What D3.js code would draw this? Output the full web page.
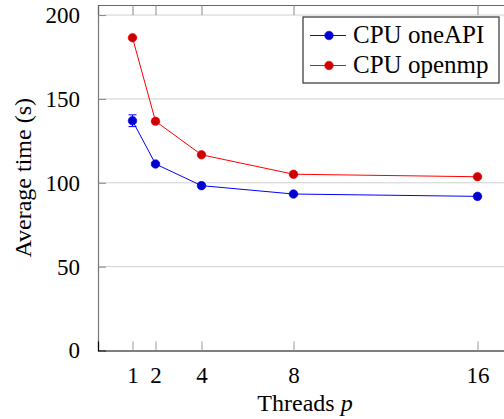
<!DOCTYPE html>
<html>
<head>
<meta charset="utf-8">
<script src="https://cdn.jsdelivr.net/npm/d3@7"></script>
<style>
  html, body { margin: 0; padding: 0; background: #fff; }
</style>
</head>
<body>
<div id="chart"></div>
<script>
// data
const threads = [1, 2, 4, 8, 16];
const oneApiTime = [137.0, 111.2, 98.3, 93.3, 91.9];
const oneApiErr = [3.5, 0.8, 0.6, 0.5, 0.5];
const openmpTime = [186.5, 136.7, 116.7, 105.1, 103.6];
const openmpErr = [0.6, 0.5, 0.5, 0.4, 0.4];
const yTicks = [0, 50, 100, 150, 200];
const seriesNames = ["CPU oneAPI", "CPU openmp"];

(() => {
  const W = 504, H = 419;
  const FONT = "'Liberation Serif', 'Times New Roman', Times, 'DejaVu Serif', serif";
  const margin = { top: 5, right: -8, bottom: 68.5, left: 98 };
  const width = W - margin.left - margin.right;
  const height = H - margin.top - margin.bottom;

  const series = [
    { name: seriesNames[0], line: "#0000ff", fill: "#0000cc", values: oneApiTime, err: oneApiErr },
    { name: seriesNames[1], line: "#ff0000", fill: "#cc0000", values: openmpTime, err: openmpErr },
  ];

  const svg = d3.select("#chart").append("svg")
    .attr("width", W).attr("height", H)
    .style("font-family", FONT);

  const g = svg.append("g").attr("transform", `translate(${margin.left},${margin.top})`);

  const x = d3.scaleLinear().domain([-0.5, 17.5]).range([0, width]);
  const y = d3.scaleLinear().domain([0, 206]).range([height, 0]);

  // grid
  g.append("g").selectAll("line")
    .data(yTicks.filter(d => d > 0))
    .join("line")
    .attr("x1", 0).attr("x2", width)
    .attr("y1", d => y(d)).attr("y2", d => y(d))
    .attr("stroke", "#d0d0d0").attr("stroke-width", 1);

  // y axis (ticks inside)
  const yAxis = g.append("g")
    .call(d3.axisLeft(y).tickValues(yTicks).tickSize(-8).tickPadding(18).tickFormat(d3.format("d")));
  yAxis.attr("font-family", null);
  yAxis.select(".domain").attr("stroke", "#777").attr("stroke-width", 1.2);
  yAxis.selectAll(".tick line").attr("stroke", "#888");
  yAxis.selectAll(".tick text").attr("font-size", 23).attr("fill", "#000")
    .style("font-family", FONT);

  // x axis bottom
  const xAxis = g.append("g").attr("transform", `translate(0,${height})`)
    .call(d3.axisBottom(x).tickValues(threads).tickSize(-9).tickPadding(16).tickFormat(d3.format("d")));
  xAxis.attr("font-family", null);
  xAxis.select(".domain").attr("stroke", "#000").attr("stroke-width", 1.2);
  xAxis.selectAll(".tick line").attr("stroke", "#999");
  xAxis.selectAll(".tick text").attr("font-size", 23).attr("fill", "#000")
    .style("font-family", FONT);

  // top frame
  const xTop = g.append("g")
    .call(d3.axisTop(x).tickValues(threads).tickSize(-10).tickFormat(""));
  xTop.select(".domain").attr("stroke", "#666").attr("stroke-width", 1.2);
  xTop.selectAll(".tick line").attr("stroke", "#888");

  // axis labels
  g.append("text")
    .attr("x", width / 2).attr("y", height + 60)
    .attr("text-anchor", "middle").attr("font-size", 24)
    .style("font-family", FONT)
    .call(t => {
      t.append("tspan").text("Threads ");
      t.append("tspan").attr("font-style", "italic").text("p");
    });

  svg.append("text")
    .attr("transform", `translate(31,${margin.top + height / 2}) rotate(-90)`)
    .attr("text-anchor", "middle").attr("font-size", 24)
    .style("font-family", FONT)
    .text("Average time (s)");

  const line = d3.line().x(d => x(d.t)).y(d => y(d.v));

  series.forEach(s => {
    const pts = threads.map((t, i) => ({ t, v: s.values[i], e: s.err[i] }));
    const sg = g.append("g");

    sg.append("path").datum(pts)
      .attr("d", line).attr("fill", "none")
      .attr("stroke", s.line).attr("stroke-width", 1);

    // error bars
    const eb = sg.selectAll(".err").data(pts).join("g").attr("class", "err");
    eb.append("line")
      .attr("x1", d => x(d.t)).attr("x2", d => x(d.t))
      .attr("y1", d => y(d.v - d.e)).attr("y2", d => y(d.v + d.e))
      .attr("stroke", s.line).attr("stroke-width", 1);
    [1, -1].forEach(sign => {
      eb.append("line")
        .attr("x1", d => x(d.t) - 4).attr("x2", d => x(d.t) + 4)
        .attr("y1", d => y(d.v + sign * d.e)).attr("y2", d => y(d.v + sign * d.e))
        .attr("stroke", s.line).attr("stroke-width", 1);
    });

    sg.selectAll("circle").data(pts).join("circle")
      .attr("cx", d => x(d.t)).attr("cy", d => y(d.v)).attr("r", 4.3)
      .attr("fill", s.fill).attr("stroke", s.line).attr("stroke-width", 0.6);
  });

  // legend
  const lx = 303 - margin.left, ly = 17 - margin.top;
  const legend = g.append("g").attr("transform", `translate(${lx},${ly})`);
  legend.append("rect")
    .attr("width", 196).attr("height", 66)
    .attr("fill", "#fff").attr("stroke", "#333").attr("stroke-width", 1.2);
  series.forEach((s, i) => {
    const row = legend.append("g").attr("transform", `translate(0,${18.5 + i * 30})`);
    row.append("line").attr("x1", 7).attr("x2", 43).attr("y1", 0).attr("y2", 0)
      .attr("stroke", s.line).attr("stroke-width", 1);
    row.append("circle").attr("cx", 26).attr("cy", 0).attr("r", 4.3)
      .attr("fill", s.fill).attr("stroke", s.line).attr("stroke-width", 0.6);
    row.append("text").attr("x", 50).attr("y", 7.5)
      .attr("font-size", 25).style("font-family", FONT).text(s.name);
  });
})();
</script>
</body>
</html>
